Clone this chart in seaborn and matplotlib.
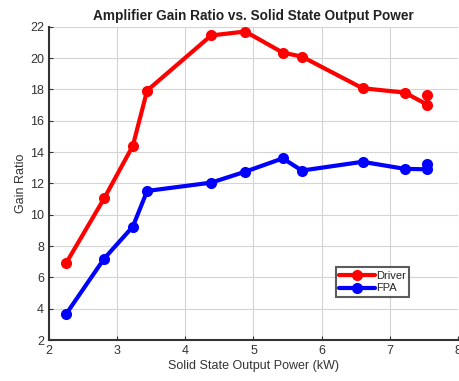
import pandas as pd
import seaborn as sns
import matplotlib.pyplot as plt

# power (kW) and gain ratio
driver_power = [2.25, 2.81, 3.23, 3.44, 4.38, 4.88, 5.43, 5.71, 6.60, 7.22, 7.55, 7.55]
driver_gain = [6.9, 11.05, 14.4, 17.93, 21.45, 21.7, 20.35, 20.1, 18.08, 17.8, 17.03, 17.63]
fpa_power = [2.25, 2.81, 3.23, 3.44, 4.38, 4.88, 5.43, 5.71, 6.60, 7.22, 7.55, 7.55]
fpa_gain = [3.65, 7.2, 9.24, 11.52, 12.05, 12.75, 13.6, 12.82, 13.38, 12.93, 12.9, 13.22]

df = pd.concat([
    pd.DataFrame({"power": driver_power, "gain": driver_gain, "series": "Driver"}),
    pd.DataFrame({"power": fpa_power, "gain": fpa_gain, "series": "FPA"}),
])

sns.set_style("whitegrid", {"grid.color": "#d4d4d4", "axes.edgecolor": "#333333"})
plt.rcParams["font.family"] = ["Liberation Sans", "DejaVu Sans"]

fig = plt.figure(figsize=(4.6, 3.81), dpi=100)
ax = fig.add_axes([0.1065, 0.1076, 0.889, 0.822])

sns.lineplot(data=df, x="power", y="gain", hue="series", sort=False, estimator=None,
             palette={"Driver": "#ff0000", "FPA": "#0000ff"},
             marker="o", markersize=8, linewidth=3, markeredgewidth=0, ax=ax)

ax.set_xlim(2, 8)
ax.set_ylim(2, 22)
ax.set_xticks(range(2, 9))
ax.set_yticks(range(2, 23, 2))
ax.tick_params(labelsize=9, colors="#333333", length=3, direction="in")
ax.tick_params(left=True, bottom=True)
for s in ["top", "right"]:
    ax.spines[s].set_visible(False)
for s in ["left", "bottom"]:
    ax.spines[s].set_linewidth(1.5)

ax.set_xlabel("Solid State Output Power (kW)", fontsize=9, color="#333333", labelpad=2)
ax.set_ylabel("Gain Ratio", fontsize=9, color="#333333", labelpad=2)
ax.set_title("Amplifier Gain Ratio vs. Solid State Output Power", fontsize=9.8,
             fontweight="bold", color="#222222", pad=5)

leg = ax.legend(loc="upper left", bbox_to_anchor=(0.702, 0.232), fontsize=8,
                frameon=True, fancybox=False, handlelength=3.2, handletextpad=0.1,
                borderpad=0.3, labelspacing=0.25, borderaxespad=0)
leg.get_frame().set_edgecolor("#333333")
leg.get_frame().set_linewidth(1.5)

fig.savefig("out.png", dpi=100)
